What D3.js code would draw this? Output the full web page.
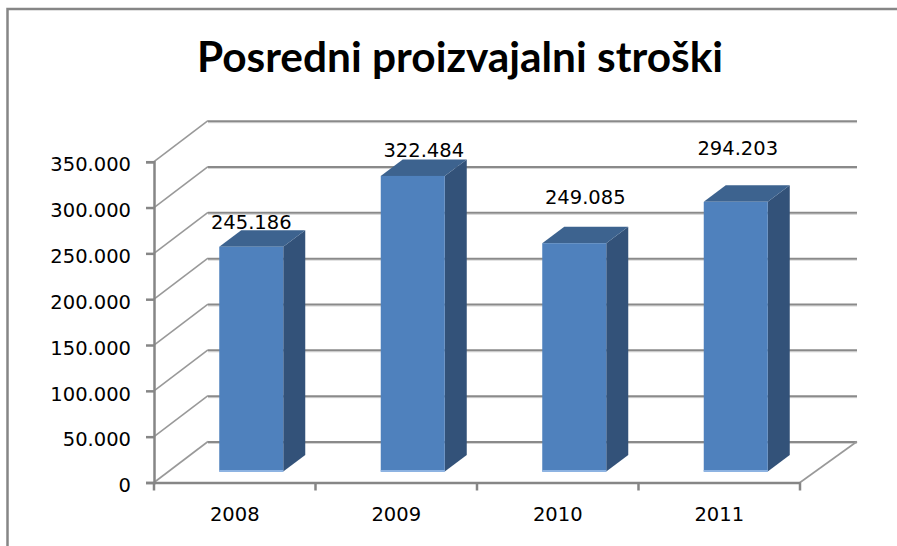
<!DOCTYPE html>
<html>
<head>
<meta charset="utf-8">
<script src="https://cdn.jsdelivr.net/npm/d3@7"></script>
<style>
  html, body { margin: 0; padding: 0; background: #fff; }
  svg { display: block; }
</style>
</head>
<body>
<div id="chart"></div>
<script>
"use strict";

const years = ["2008", "2009", "2010", "2011"];
const values = [245186, 322484, 249085, 294203];
const tickValues = [0, 50000, 100000, 150000, 200000, 250000, 300000, 350000];
const tickLabels = ["0", "50.000", "100.000", "150.000", "200.000", "250.000", "300.000", "350.000"];
const valueLabels = ["245.186", "322.484", "249.085", "294.203"];
const chartTitle = "Posredni proizvajalni stroški";

const width = 897, height = 546;

// 3d look: back wall is shifted from the front axis
const wallDx = 54, wallDy = -41;
// bars stand part way into the floor
const barDx = 16.5, barDy = -11;
const barWidth = 64;
const sideDx = 22, sideDy = -16.5;
// labels were placed by hand in the original, so shift per bar
const labelShift = [[0, -18], [11, -19], [11, -39], [2, -47]];

const labelFont = "'DejaVu Sans', sans-serif";

const x = d3.scaleBand().domain(years).range([154, 800]);
const y = d3.scaleLinear().domain([0, 350000]).range([482.5, 161.7]);

const svg = d3.select("#chart").append("svg")
  .attr("width", width).attr("height", height);

// frame
svg.append("path")
  .attr("d", "M7.5,546V9H" + width)
  .attr("fill", "none").attr("stroke", "#868686").attr("stroke-width", 2.5);

svg.append("text")
  .attr("x", 460).attr("y", 72)
  .attr("text-anchor", "middle")
  .attr("font-family", "Lato, sans-serif")
  .attr("font-weight", 700)
  .attr("font-size", 42.4)
  .attr("fill", "#000")
  .text(chartTitle);

// back wall gridlines + diagonals on the side wall
const grid = svg.append("g");
tickValues.forEach(function(t) {
  grid.append("line")
    .attr("x1", x.range()[0]).attr("y1", y(t))
    .attr("x2", x.range()[0] + wallDx).attr("y2", y(t) + wallDy)
    .attr("stroke", "#999").attr("stroke-width", 1.6);
  // soft line under each gridline
  grid.append("line")
    .attr("x1", x.range()[0] + wallDx).attr("y1", y(t) + wallDy + 2)
    .attr("x2", x.range()[1] + wallDx + 3).attr("y2", y(t) + wallDy + 2)
    .attr("stroke", "#d4d4d4").attr("stroke-width", 1);
  grid.append("line")
    .attr("x1", x.range()[0] + wallDx).attr("y1", y(t) + wallDy + 0.5)
    .attr("x2", x.range()[1] + wallDx + 3).attr("y2", y(t) + wallDy + 0.5)
    .attr("stroke", "#8a8a8a").attr("stroke-width", 2);
});
// floor right edge
grid.append("line")
  .attr("x1", x.range()[1]).attr("y1", y(0))
  .attr("x2", x.range()[1] + wallDx + 3).attr("y2", y(0) + wallDy)
  .attr("stroke", "#999").attr("stroke-width", 1.6);

// axes
const yAxis = d3.axisLeft(y).tickValues(tickValues)
  .tickFormat(function(d, i) { return tickLabels[i]; })
  .tickSize(8).tickPadding(15);
const xAxis = d3.axisBottom(x).tickSize(0).tickPadding(25);

const gy = svg.append("g").attr("transform", "translate(154,0)").call(yAxis);
const gx = svg.append("g").attr("transform", "translate(0," + y(0) + ")").call(xAxis);
[gy, gx].forEach(function(g) {
  g.selectAll("path").attr("stroke", "#868686").attr("stroke-width", 2.5);
  g.selectAll("line").attr("stroke", "#868686").attr("stroke-width", 2.5);
  g.selectAll("text")
    .attr("font-family", labelFont)
    .attr("font-size", 19.5)
    .attr("fill", "#000");
});
gy.selectAll("text").attr("dy", "0.47em");
// ticks between the categories on the x axis
gx.selectAll(".edge").data(d3.range(years.length + 1)).enter()
  .append("line").attr("class", "edge")
  .attr("x1", function(d) { return x.range()[0] + d * x.step(); })
  .attr("x2", function(d) { return x.range()[0] + d * x.step(); })
  .attr("y1", 0).attr("y2", 8)
  .attr("stroke", "#868686").attr("stroke-width", 2.5);

// bars
const bars = svg.selectAll(".bar").data(years).enter().append("g").attr("class", "bar");
const barLeft = function(d) { return x(d) + x.bandwidth() / 2 - barWidth / 2 + barDx; };
const barTop = function(i) { return y(values[i]) + barDy; };
const barBottom = y(0) + barDy;

bars.append("path") // side face
  .attr("fill", "#335279")
  .attr("d", function(d, i) {
    const r = barLeft(d) + barWidth;
    return "M" + r + "," + barTop(i) + "l" + sideDx + "," + sideDy +
      "V" + (barBottom + sideDy) + "L" + r + "," + barBottom + "Z";
  });
bars.append("path") // top face
  .attr("fill", "#3d638f")
  .attr("d", function(d, i) {
    const l = barLeft(d);
    return "M" + l + "," + barTop(i) + "l" + sideDx + "," + sideDy +
      "h" + barWidth + "l" + (-sideDx) + "," + (-sideDy) + "Z";
  });
bars.append("rect") // front face
  .attr("x", barLeft)
  .attr("y", function(d, i) { return barTop(i); })
  .attr("width", barWidth)
  .attr("height", function(d, i) { return barBottom - barTop(i); })
  .attr("fill", "#4f81bd");
bars.append("rect") // light bottom edge
  .attr("x", barLeft).attr("y", barBottom - 1.5)
  .attr("width", barWidth).attr("height", 2)
  .attr("fill", "#8db3e2");

bars.append("text")
  .attr("x", function(d, i) { return barLeft(d) + barWidth / 2 + labelShift[i][0]; })
  .attr("y", function(d, i) { return barTop(i) + labelShift[i][1]; })
  .attr("text-anchor", "middle")
  .attr("font-family", labelFont)
  .attr("font-size", 19.5)
  .attr("fill", "#000")
  .text(function(d, i) { return valueLabels[i]; });
</script>
</body>
</html>
